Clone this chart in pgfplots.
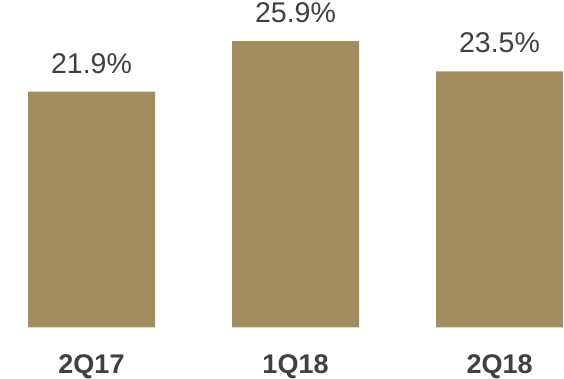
\documentclass[border=0pt]{standalone}
\usepackage{fontspec}
\setmainfont{Liberation Sans}
\usepackage{pgfplots}
\pgfplotsset{compat=1.18}
\definecolor{barcol}{HTML}{A38D5F}
\definecolor{txt}{HTML}{404040}
\begin{document}
\begin{tikzpicture}
\useasboundingbox (0,0) rectangle (564pt,379pt);
\begin{axis}[
  at={(0pt,51.5pt)}, anchor=south west,
  scale only axis, width=564pt, height=401.8pt,
  xmin=-0.4485, xmax=2.316,
  ymin=3.3, ymax=35,
  ybar, bar width=127pt, bar shift=0pt,
  axis line style={draw=none}, tick style={draw=none},
  ytick=\empty,
  xtick={0,1,2}, xticklabels={2Q17,1Q18,2Q18},
  xticklabel style={anchor=base, inner sep=0pt, yshift=-41.5pt, font=\fontsize{27}{30}\selectfont\bfseries, text=txt},
  nodes near coords,
  point meta=explicit symbolic,
  every node near coord/.append style={anchor=base, inner sep=0pt, yshift=18.5pt, font=\fontsize{28.5}{32}\selectfont, text=txt},
  clip mode=individual,
]
\addplot[fill=barcol, draw=none] table[meta=label] {
x y label
0 21.9 21.9\%
1 25.9 25.9\%
2 23.5 23.5\%
};
\end{axis}
\end{tikzpicture}
\end{document}
